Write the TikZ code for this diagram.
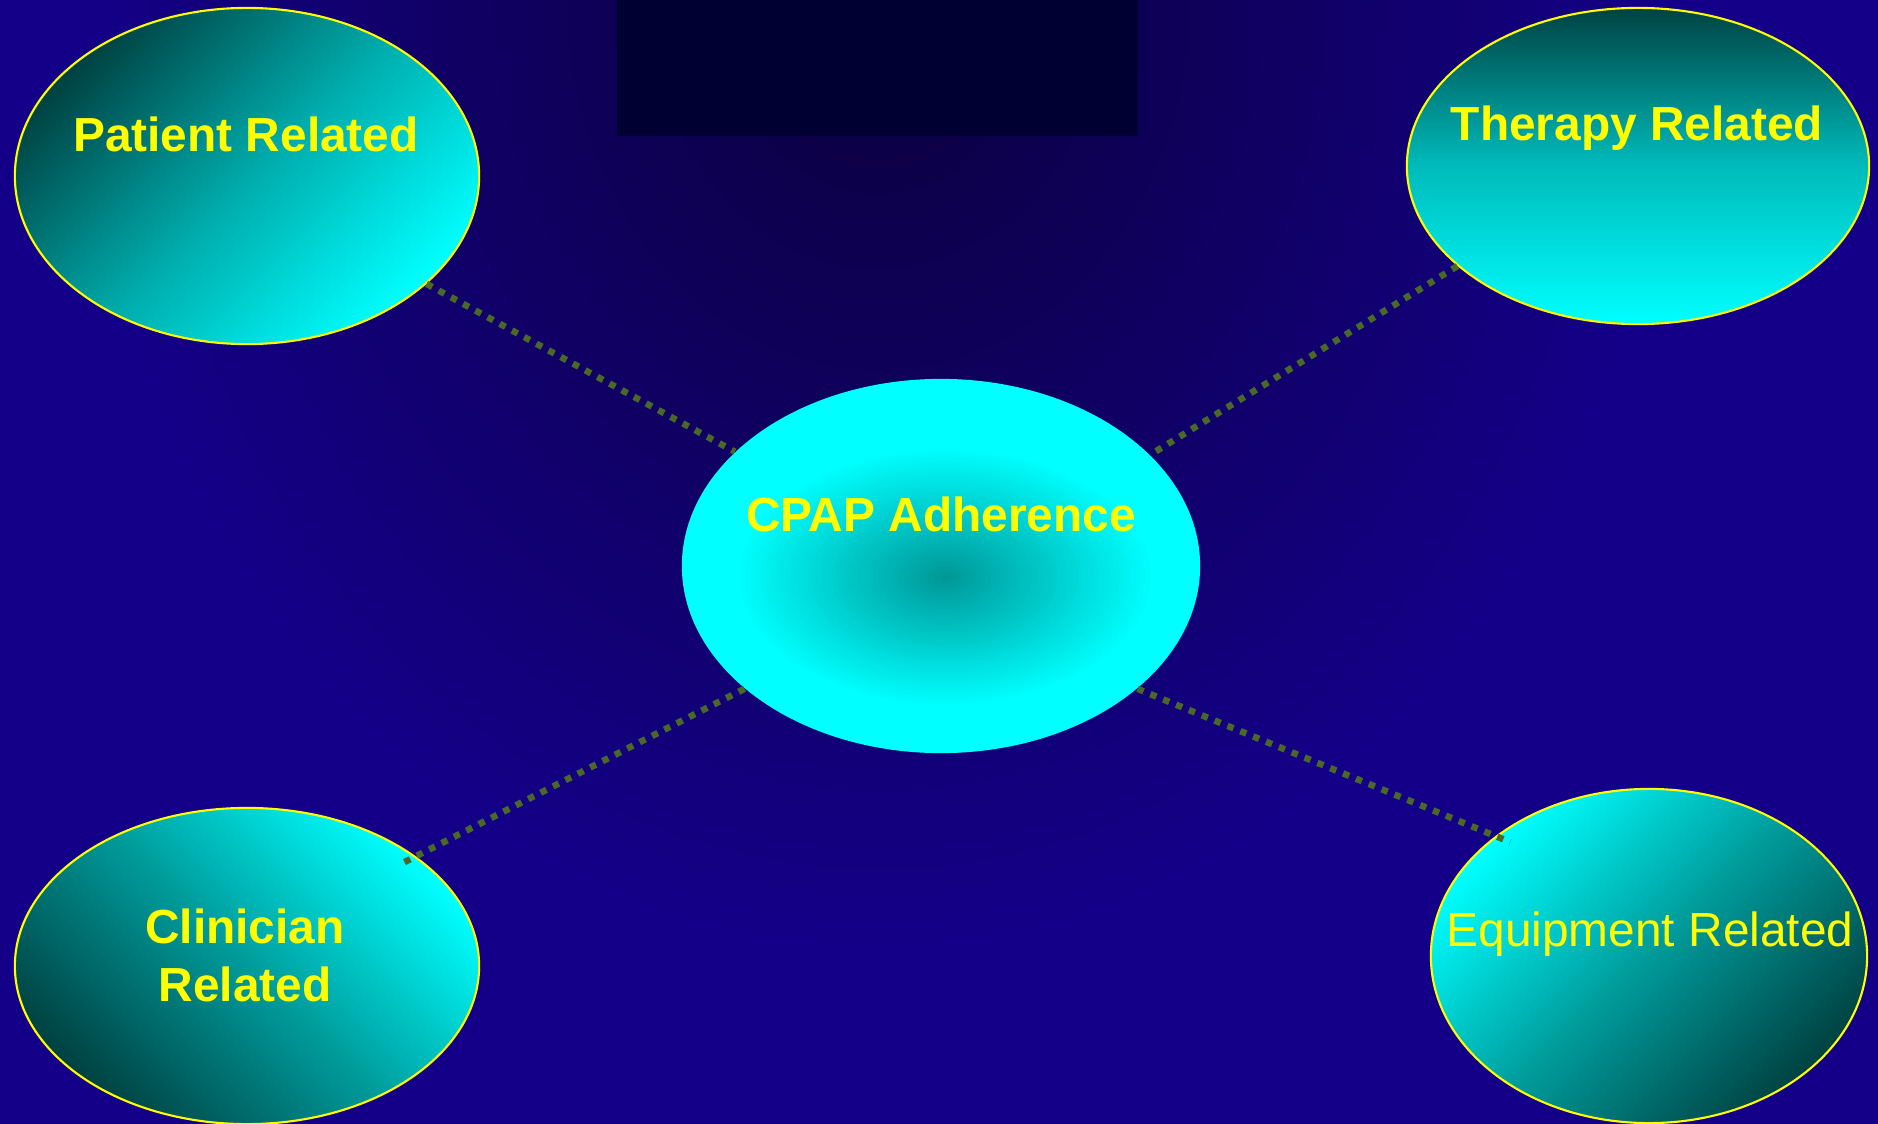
\documentclass[tikz,border=0pt]{standalone}
\usepackage{fontspec}
\setmainfont{Liberation Sans}
\usepackage{tikz}
\usetikzlibrary{shapes.geometric,backgrounds}

\definecolor{bgblue}{RGB}{20,0,136}
\definecolor{bgdark}{RGB}{11,0,60}
\definecolor{topnavy}{RGB}{0,0,50}
\definecolor{aqua}{RGB}{0,255,255}
\definecolor{tealdark}{RGB}{0,66,66}
\definecolor{tealmid}{RGB}{0,170,170}
\definecolor{cpapcore}{RGB}{0,152,152}
\definecolor{linkgreen}{RGB}{74,104,40}
\definecolor{lblyellow}{RGB}{255,255,0}

\tikzset{
  factor/.style={ellipse, draw=lblyellow, line width=0.6pt, inner sep=0pt},
  lbl/.style={text=lblyellow, anchor=base, font=\fontsize{13.6}{16.5}\selectfont\bfseries},
  link/.style={color=linkgreen, line width=1.85pt, dash pattern=on 1.85pt off 2.1pt}
}

\begin{document}
\begin{tikzpicture}[x=0.01cm, y=-0.01cm]
    \useasboundingbox (0,0) rectangle (1878,1124);
    \fill[bgblue] (0,0) rectangle (1878,1124);
    \begin{scope}
      \clip (0,0) rectangle (1878,1124);
      \shade[inner color=bgdark, outer color=bgblue] (78,-950) rectangle (1678,950);
    \end{scope}
    \fill[topnavy] (617,0) rectangle (1138,136);

    \draw (247,176) node[factor, minimum width=4.64cm, minimum height=3.36cm,
        top color=tealdark, bottom color=aqua, middle color=tealmid, shading angle=45] (patient) {};
    \draw (1638,166) node[factor, minimum width=4.62cm, minimum height=3.16cm,
        top color=tealdark, bottom color=aqua, middle color=tealmid!80!aqua] (therapy) {};
    \draw (941,566) node[ellipse, inner sep=0pt, minimum width=5.18cm, minimum height=3.74cm, fill=aqua] (cpap) {};
    \coordinate (glow) at (945,577);
    \foreach \k [evaluate=\k as \p using {100-2.5*\k}, evaluate=\k as \rx using {2.1*(1-\k/41)},
                 evaluate=\k as \ry using {1.3*(1-\k/41)}] in {0,...,40}
      \fill[aqua!\p!cpapcore] (glow) ellipse [x radius=\rx cm, y radius=\ry cm];
    \draw (247,966) node[factor, minimum width=4.64cm, minimum height=3.16cm,
        top color=aqua, bottom color=tealdark, middle color=tealmid!85!tealdark, shading angle=-45] (clinician) {};
    \draw (1649,956) node[factor, minimum width=4.36cm, minimum height=3.34cm,
        top color=aqua, bottom color=tealdark, middle color=tealmid!85!tealdark, shading angle=45] (equipment) {};

    \draw (246,151) node[lbl] (patienttext) {Patient Related};
    \draw (1637,140) node[lbl] (therapytext) {Therapy Related};
    \draw (941,531) node[lbl] (cpaptext) {CPAP Adherence};
    \draw (245,955) node[lbl, anchor=center, align=center] (cliniciantext) {Clinician\\Related};
    \draw (1650,946) node[lbl, font=\fontsize{13.6}{16.5}\selectfont] (equipmenttext) {Equipment Related};

    \path[link] (patient.-31) edge (cpap.151);
    \path[link] (therapy.209) edge (cpap.28);
    \path[link] (cpap.212) edge[shorten >=-0.13cm] (clinician.33);
    \path[link] (cpap.-32) edge[shorten >=-0.16cm] (equipment.142);

\end{tikzpicture}
\end{document}
